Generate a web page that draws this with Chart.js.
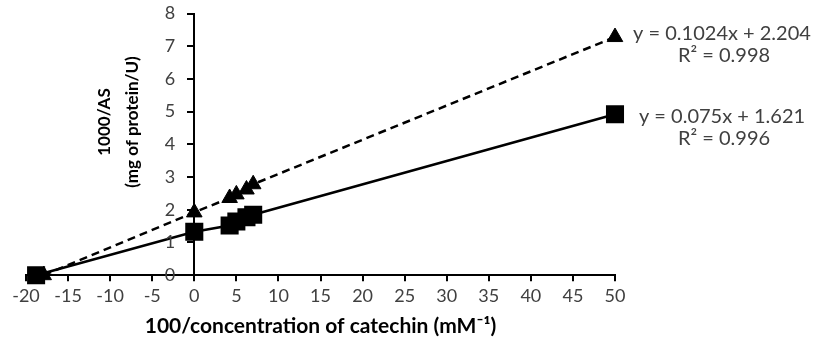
<!DOCTYPE html>
<html>
<head>
<meta charset="utf-8">
<script src="https://cdn.jsdelivr.net/npm/chart.js@4/dist/chart.umd.min.js"></script>
<style>
  html, body { margin: 0; padding: 0; background: #fff; }
  #wrap { width: 818px; height: 341px; }
</style>
</head>
<body>
<div id="wrap"><canvas id="lbChart"></canvas></div>
<script>
// values
const squareX = [-18.8, 0, 4.2, 5, 6.2, 7, 50];
const squareY = [0, 1.33, 1.52, 1.64, 1.77, 1.85, 4.92];
const triangleX = [-17.9, 0, 4.2, 5, 6.2, 7, 50];
const triangleY = [0, 1.92, 2.36, 2.47, 2.62, 2.78, 7.28];

const equations = ['y = 0.1024x + 2.204', 'y = 0.075x + 1.621'];
const rSquared = ['R² = 0.998', 'R² = 0.996'];

const xTitle = '100/concentration of catechin (mM⁻¹)';
const yTitle = ['1000/AS', '(mg of protein/U)'];

const FONT = 'Lato, "Liberation Sans", sans-serif';
const TEXT = '#404040';

const toPoints = (xs, ys) => xs.map((x, i) => ({ x: x, y: ys[i] }));

// y tick labels (axis sits at x = 0), trendline labels, rotated y title
const extras = {
    id: 'extras',
    afterDatasetsDraw(chart) {
        const ctx = chart.ctx;
        const yScale = chart.scales.y;
        const axisX = chart.scales.x.getPixelForValue(0);
        ctx.save();
        ctx.fillStyle = TEXT;
        ctx.font = '18px ' + FONT;
        ctx.textAlign = 'right';
        ctx.textBaseline = 'middle';
        yScale.ticks.forEach(t => {
            ctx.fillText(String(t.value), axisX - 19, yScale.getPixelForValue(t.value));
        });

        ctx.font = '20px ' + FONT;
        ctx.textAlign = 'center';
        [1, 0].forEach((dsIndex, k) => {
            const meta = chart.getDatasetMeta(dsIndex);
            const last = meta.data[meta.data.length - 1];
            const cx = 722;
            const dy = k === 0 ? -4 : 2;
            ctx.fillText(equations[k], cx, last.y + dy);
            ctx.fillText(rSquared[k], cx + 2, last.y + dy + 22);
        });

        ctx.fillStyle = '#000';
        ctx.font = 'bold 17px ' + FONT;
        ctx.translate(119, 122);
        ctx.rotate(-Math.PI / 2);
        ctx.fillText(yTitle[0], 0, -14);
        ctx.fillText(yTitle[1], 0, 14);
        ctx.restore();
    }
};

const axisGrid = {
    drawOnChartArea: false,
    drawTicks: true,
    tickLength: 6,
    color: '#000',
    lineWidth: 2
};

new Chart(document.getElementById('lbChart'), {
    type: 'scatter',
    data: {
        datasets: [{
            label: 'squares',
            data: toPoints(squareX, squareY),
            showLine: true,
            borderColor: '#000',
            borderWidth: 2.5,
            backgroundColor: '#000',
            pointStyle: 'rect',
            pointRadius: 11,
            pointHoverRadius: 11,
            clip: false
        }, {
            label: 'triangles',
            data: toPoints(triangleX, triangleY),
            showLine: true,
            borderColor: '#000',
            borderWidth: 2.5,
            borderDash: [8, 5],
            backgroundColor: '#000',
            pointStyle: 'triangle',
            pointRadius: 9,
            pointHoverRadius: 9,
            pointBorderWidth: 1,
            clip: false
        }]
    },
    options: {
        responsive: true,
        maintainAspectRatio: false,
        animation: false,
        layout: { padding: { left: 26, right: 203, top: 10, bottom: 2 } },
        plugins: {
            legend: { display: false },
            tooltip: { enabled: false }
        },
        scales: {
            x: {
                type: 'linear',
                min: -20,
                max: 50,
                grid: axisGrid,
                border: { color: '#000', width: 2 },
                ticks: {
                    stepSize: 5,
                    color: TEXT,
                    font: { size: 18, family: FONT },
                    padding: 4,
                    maxRotation: 0
                },
                title: {
                    display: true,
                    text: xTitle,
                    color: '#000',
                    font: { size: 21, weight: 'bold', family: FONT },
                    padding: { top: 3, bottom: 0 }
                }
            },
            y: {
                type: 'linear',
                position: { x: 0 },
                min: 0,
                max: 8,
                grid: axisGrid,
                border: { color: '#000', width: 2 },
                ticks: {
                    stepSize: 1,
                    display: false
                }
            }
        }
    },
    plugins: [extras]
});
</script>
</body>
</html>
